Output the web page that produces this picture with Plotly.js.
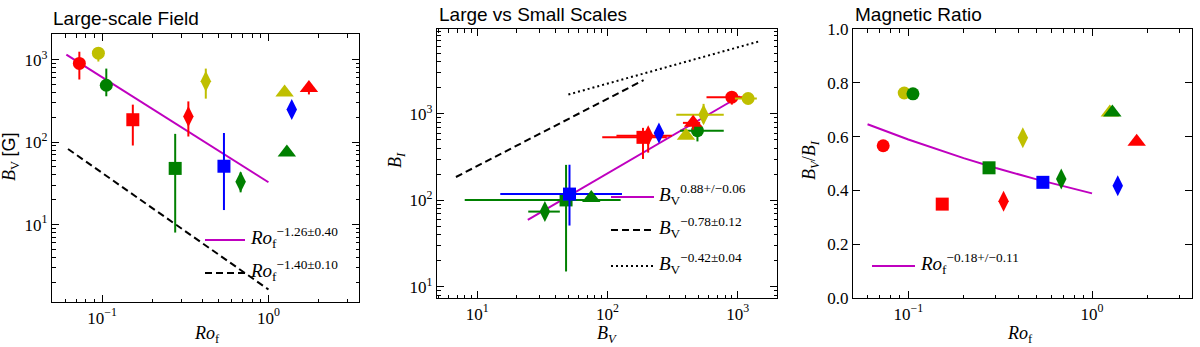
<!DOCTYPE html>
<html>
<head>
<meta charset="utf-8">
<script src="https://cdn.plot.ly/plotly-3.0.1.min.js"></script>
<style>
  body { margin: 0; background: white; }
  #chart { width: 1200px; height: 347px; }
</style>
</head>
<body>
<div id="chart"></div>
<script>
// one entry per star: rc, yc, gc, rs, gs, bs, rd, yd, gd, bd, yt, gt, rt
var rossby = [0.073, 0.095, 0.106, 0.153, 0.275, 0.54, 0.33, 0.42, 0.68, 1.38, 1.25, 1.29, 1.75];
var bV = [900, 1200, 490, 187, 48, 51, 205, 546, 33, 248, 400, 75, 454];
var bVErrPlus = [350, 200, 290, 98, 78, 78, 107, 234, 10, 0, 0, 0, 60];
var bVErrMinus = [325, 250, 130, 96, 40, 36, 88, 209, 8.4, 0, 0, 0, 75];
var bI = [1560, 1506, 640, 535, 101, 118, 560, 980, 74, 602, 560, 106, 787];
var bIErrPlus = [200, 0, 147, 154, 156, 140, 70, 326, 10, 0, 0, 0, 113];
var bIErrMinus = [280, 0, 160, 234, 86, 67, 204, 200, 10, 0, 0, 0, 129];
var ratio = [0.566, 0.762, 0.759, 0.349, 0.484, 0.43, 0.36, 0.596, 0.442, 0.417, 0.69, 0.69, 0.581];

// fit lines
var fit1X = [0.061, 1.0], fit1Y = [1150, 32.6];
var ref1X = [0.0624, 1.0], ref1Y = [82.6, 1.63];
var fit2X = [24.4, 1036], fit2Y = [59.4, 1600];
var ref2X = [6.85, 189], ref2Y = [186, 2455];
var dot2X = [50, 1480], dot2Y = [1675, 6950];
var fit3X = [0.06, 0.1, 0.2, 0.3, 0.5, 0.7, 1.0];
var fit3Y = [0.646, 0.589, 0.52, 0.483, 0.441, 0.415, 0.389];

var starColor = ['#ff0000', '#bfbf00', '#008000', '#ff0000', '#008000', '#0000ff', '#ff0000',
                 '#bfbf00', '#008000', '#0000ff', '#bfbf00', '#008000', '#ff0000'];
var starSymbol = ['circle', 'circle', 'circle', 'square', 'square', 'square', 'diamond-tall',
                  'diamond-tall', 'diamond-tall', 'diamond-tall', 'triangle-up', 'triangle-up', 'triangle-up'];

var W = 1200, H = 347;
function px(x) { return x / W; }
function py(y) { return 1 - y / H; }

var MAG = '#bf00bf';
var serif = 'Liberation Serif, Times New Roman, serif';
var sans = 'Liberation Sans, Arial, sans-serif';

function markerSize(s) {
  if (s === 'diamond-tall') return 15;
  if (s === 'triangle-up') return 16;
  return 13;
}

var traces = [];
function line(x, y, xa, ya, dash, color) {
  traces.push({x: x, y: y, xaxis: xa, yaxis: ya, mode: 'lines',
    line: {color: color, width: 2, dash: dash}, hoverinfo: 'skip'});
}
line(fit1X, fit1Y, 'x', 'y', 'solid', MAG);
line(ref1X, ref1Y, 'x', 'y', '7px,4px', 'black');
line(fit2X, fit2Y, 'x2', 'y2', 'solid', MAG);
line(ref2X, ref2Y, 'x2', 'y2', '7px,4px', 'black');
line(dot2X, dot2Y, 'x2', 'y2', '2px,3px', 'black');
line(fit3X, fit3Y, 'x3', 'y3', 'solid', MAG);

for (var i = 0; i < rossby.length; i++) {
  var mk = {color: starColor[i], symbol: starSymbol[i], size: markerSize(starSymbol[i]), line: {width: 0}};
  var hasV = bVErrPlus[i] > 0 || bVErrMinus[i] > 0;
  var hasI = bIErrPlus[i] > 0 || bIErrMinus[i] > 0;
  traces.push({
    x: [rossby[i]], y: [bV[i]], xaxis: 'x', yaxis: 'y', mode: 'markers', marker: mk,
    error_y: {type: 'data', symmetric: false, array: [bVErrPlus[i]], arrayminus: [bVErrMinus[i]],
      visible: hasV, color: starColor[i], thickness: 2, width: 0}
  });
  traces.push({
    x: [bV[i]], y: [bI[i]], xaxis: 'x2', yaxis: 'y2', mode: 'markers', marker: mk,
    error_x: {type: 'data', symmetric: false, array: [bVErrPlus[i]], arrayminus: [bVErrMinus[i]],
      visible: hasV, color: starColor[i], thickness: 2, width: 0},
    error_y: {type: 'data', symmetric: false, array: [bIErrPlus[i]], arrayminus: [bIErrMinus[i]],
      visible: hasI, color: starColor[i], thickness: 2, width: 0}
  });
  traces.push({
    x: [rossby[i]], y: [ratio[i]], xaxis: 'x3', yaxis: 'y3', mode: 'markers', marker: mk
  });
}

function minorLog(d0, d1) {
  var v = [];
  for (var d = d0; d <= d1; d++) for (var k = 2; k <= 9; k++) v.push(k * Math.pow(10, d));
  return v;
}

function logAxis(range, dom, vals, texts, anchor, minorVals) {
  return {
    type: 'log', range: range, domain: dom, anchor: anchor,
    showline: true, linecolor: 'black', linewidth: 1.2, mirror: 'allticks',
    ticks: 'inside', ticklen: 7, tickwidth: 1, tickcolor: 'black',
    tickmode: 'array', tickvals: vals, ticktext: texts,
    tickfont: {family: serif, size: 17, color: 'black'},
    minor: {ticks: 'inside', ticklen: 3.5, tickwidth: 1, tickcolor: 'black',
      tickmode: 'array', tickvals: minorVals, showgrid: false},
    showgrid: false, zeroline: false
  };
}

var ro = [0.1, 1], roText = ['10<sup>−1</sup>', '10<sup>0</sup>'];
var dec = [10, 100, 1000], decText = ['10<sup>1</sup>', '10<sup>2</sup>', '10<sup>3</sup>'];

var x1Dom = [px(52), px(359)], x2Dom = [px(437), px(777)], x3Dom = [px(853), px(1192)];
var y1Dom = [py(302), py(34)], y2Dom = [py(298), py(29)];

var layout = {
  width: W, height: H,
  margin: {l: 0, r: 0, t: 0, b: 0},
  paper_bgcolor: 'white', plot_bgcolor: 'white',
  showlegend: false,
  xaxis: logAxis([Math.log10(0.05), Math.log10(3.5)], x1Dom, ro, roText, 'y', minorLog(-2, 0)),
  yaxis: logAxis([Math.log10(1.15), Math.log10(2050)], y1Dom, dec, decText, 'x', minorLog(0, 3)),
  xaxis2: logAxis([Math.log10(4.9), Math.log10(2000)], x2Dom, dec, decText, 'y2', minorLog(0, 3)),
  yaxis2: logAxis([Math.log10(7.4), Math.log10(9600)], y2Dom, dec, decText, 'x2', minorLog(0, 3)),
  xaxis3: logAxis([Math.log10(0.05), Math.log10(3.5)], x3Dom, ro, roText, 'y3', minorLog(-2, 0)),
  yaxis3: {
    range: [0, 1], domain: y2Dom, anchor: 'x3',
    showline: true, linecolor: 'black', linewidth: 1.2, mirror: 'allticks',
    ticks: 'inside', ticklen: 7, tickcolor: 'black',
    tickmode: 'linear', tick0: 0, dtick: 0.2, tickformat: '.1f',
    tickfont: {family: serif, size: 17, color: 'black'},
    showgrid: false, zeroline: false
  },
  shapes: [],
  annotations: []
};

function title(x, y, text) {
  layout.annotations.push({xref: 'paper', yref: 'paper', x: px(x), y: py(y), xanchor: 'left', yanchor: 'middle',
    text: text, showarrow: false, font: {family: sans, size: 19, color: 'black'}});
}
title(51, 19, 'Large-scale Field');
title(437, 14, 'Large vs Small Scales');
title(853, 14, 'Magnetic Ratio');

function label(x, y, text, angle, anchor) {
  layout.annotations.push({xref: 'paper', yref: 'paper', x: px(x), y: py(y), xanchor: anchor || 'center', yanchor: 'middle',
    text: text, showarrow: false, textangle: angle || 0, font: {family: serif, size: 18, color: 'black'}});
}
label(207, 334, '<i>Ro</i><sub>f</sub>');
label(11, 157, '<i>B</i><sub>V</sub> <span style="font-family:Liberation Sans">[G]</span>', -90);
label(607, 334, '<i>B<sub>V</sub></i>');
label(396, 160, '<i>B<sub>I</sub></i>', -90);
label(1020, 334, '<i>Ro</i><sub>f</sub>');
label(810, 160, '<i>B<sub>V</sub></i>/<i>B<sub>I</sub></i>', -90);

function legendItem(x0, x1, y, dash, color, text) {
  layout.shapes.push({type: 'line', xref: 'paper', yref: 'paper', x0: px(x0), x1: px(x1), y0: py(y), y1: py(y),
    line: {color: color, width: 2, dash: dash}});
  layout.annotations.push({xref: 'paper', yref: 'paper', x: px(x1 + 3), y: py(y - 3), xanchor: 'left', yanchor: 'middle',
    text: text, showarrow: false, font: {family: serif, size: 19, color: 'black'}});
}
legendItem(205, 245, 240, 'solid', MAG, '<i>Ro</i><sub>f</sub><sup>−1.26±0.40</sup>');
legendItem(205, 245, 273, '7px,4px', 'black', '<i>Ro</i><sub>f</sub><sup>−1.40±0.10</sup>');
legendItem(611, 654, 197, 'solid', MAG, '<i>B</i><sub>V</sub><sup>0.88+/−0.06</sup>');
legendItem(611, 654, 230, '7px,4px', 'black', '<i>B</i><sub>V</sub><sup>−0.78±0.12</sup>');
legendItem(611, 654, 266, '2px,3px', 'black', '<i>B</i><sub>V</sub><sup>−0.42±0.04</sup>');
legendItem(872, 915, 266, 'solid', MAG, '<i>Ro</i><sub>f</sub><sup>−0.18+/−0.11</sup>');

Plotly.newPlot('chart', traces, layout, {displayModeBar: false, staticPlot: true});
</script>
</body>
</html>
